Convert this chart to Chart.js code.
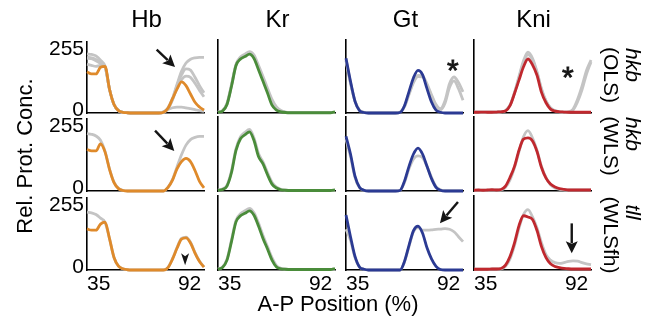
<!DOCTYPE html>
<html><head><meta charset="utf-8">
<script src="https://cdn.jsdelivr.net/npm/chart.js@4.4.1/dist/chart.umd.min.js"></script>
<style>
html,body{margin:0;padding:0;background:#fff}
body{width:652px;height:326px;position:relative;overflow:hidden;font-family:"Liberation Sans",Arial,Helvetica,sans-serif;color:#000}
.lbl{position:absolute;white-space:nowrap;line-height:1}
.panel{position:absolute}
</style></head><body>
<script>
// ---------------- data ----------------
const positions = [35,37.5,40,42.5,45,47.5,50,52.5,55,57.5,60,62.5,65,67.5,70,72.5,75,77.5,80,82.5,85,87.5,90,92.5,95,97.5,100];
const genes = ['Hb','Kr','Gt','Kni'];
const fitMutant = ['hkb','hkb','tll'];
const fitMethod = ['(OLS)','(WLS)','(WLSfh)'];
const xTickValues = [35, 92];
const yTickValues = [0, 255];
const xAxisTitle = 'A-P Position (%)';
const yAxisTitle = 'Rel. Prot. Conc.';

// Hb
const hbOLSModel = [173,164,164,192,196,100,36,10,3,1,0,0,0,0,0,0,0,3,20,60,100,131,115,80,45,25,12];
const hbOLSData1 = [248,246,240,222,196,100,36,10,3,1,0,0,0,0,0,0,0,4,22,62,120,175,210,226,232,234,234];
const hbOLSData2 = [205,200,196,200,196,100,36,10,3,1,0,0,0,0,0,0,0,3,18,55,105,140,155,150,125,95,68];
const hbOLSData3 = [235,232,225,212,196,100,36,10,3,1,0,0,0,0,0,0,0,3,18,58,115,160,185,180,150,115,85];
const hbOLSData4 = [230,228,220,208,196,100,36,10,3,1,0,0,0,0,0,0,0,5,15,22,25,25,22,18,14,10,7];
const hbWLSModel = [172,166,166,195,162,90,35,10,2,0,0,0,0,0,0,0,0,0,15,45,92,122,135,122,85,40,13];
const hbWLSData1 = [238,235,228,210,165,92,37,11,3,0,0,0,0,0,0,0,0,0,15,48,100,150,190,213,222,226,226];
const hbWLSfhModel = [170,165,165,190,198,130,52,16,5,1,0,0,0,0,0,0,0,0,10,45,90,128,133,112,70,35,12];
const hbWLSfhData1 = [240,237,230,215,198,130,52,16,5,1,0,0,0,0,0,0,0,0,11,47,93,131,136,115,72,37,13];
// Kr
const krOLSModel = [3,8,35,110,195,222,232,242,224,178,130,82,32,12,5,2,1,1,1,1,1,1,1,1,1,1,5];
const krOLSData1 = [4,10,40,118,200,230,242,252,238,196,150,102,56,25,10,4,2,2,2,2,2,2,2,2,2,2,3];
const krOLSData2 = [3,9,36,112,196,226,238,247,232,188,142,92,45,18,7,3,2,2,2,2,2,2,2,2,2,2,3];
const krWLSModel = [3,6,20,75,165,212,228,240,205,140,110,66,28,12,5,3,2,2,2,2,2,2,2,2,2,2,5];
const krWLSData1 = [4,8,24,82,172,220,238,250,215,152,118,75,36,16,7,4,2,2,2,2,2,2,2,2,2,2,3];
const krWLSfhModel = [3,10,40,115,195,220,230,240,222,178,128,85,40,12,5,3,2,2,2,2,2,2,2,2,2,2,6];
const krWLSfhData1 = [4,12,44,122,202,228,240,250,232,190,140,95,50,18,7,4,2,2,2,2,2,2,2,2,2,2,3];
// Gt
const gtOLSModel = [225,130,48,10,2,0,0,0,0,0,0,0,2,30,88,145,175,158,100,45,12,3,0,0,0,0,0];
const gtOLSData1 = [220,125,50,12,3,0,0,0,0,0,0,0,3,28,80,130,155,152,120,75,35,18,50,120,148,125,87];
const gtOLSData2 = [215,122,48,11,3,0,0,0,0,0,0,0,3,26,76,125,150,148,115,70,30,13,40,105,132,100,52];
const gtWLSModel = [222,150,60,15,3,0,0,0,0,0,0,0,2,40,100,150,174,150,100,50,15,3,0,0,0,0,0];
const gtWLSData1 = [210,140,55,13,3,0,0,0,0,0,0,0,2,35,90,130,142,135,100,55,18,5,1,1,1,1,1];
const gtWLSfhModel = [223,135,55,12,3,0,0,0,0,0,0,0,0,35,100,160,178,150,90,45,15,2,0,0,0,0,0];
const gtWLSfhData1 = [165,120,50,12,3,0,0,0,0,0,0,0,0,33,95,155,172,162,162,163,165,166,168,165,155,135,115];
// Kni
const kniOLSModel = [3,3,4,3,3,4,5,8,30,80,135,190,222,198,155,85,42,16,8,5,4,3,3,3,3,3,3];
const kniOLSData1 = [3,3,3,3,3,4,5,10,32,85,150,215,250,225,170,100,50,22,10,5,4,5,15,55,110,175,218];
const kniOLSData2 = [3,3,3,3,3,4,5,10,31,82,145,208,240,218,165,95,48,20,9,5,4,4,12,45,95,160,210];
const kniWLSModel = [3,4,3,4,5,4,6,20,55,100,165,210,215,203,160,95,52,28,16,10,7,4,4,4,4,4,4];
const kniWLSData1 = [3,3,3,3,4,4,5,15,45,95,160,220,245,215,165,100,55,25,12,7,5,4,4,4,4,4,4];
const kniWLSfhModel = [3,3,3,3,4,4,6,20,55,110,180,220,215,205,160,95,50,25,14,10,7,5,4,4,4,4,4];
const kniWLSfhData1 = [3,3,3,3,4,4,5,15,45,100,170,225,245,215,170,110,62,40,30,27,30,35,37,36,30,25,22];

// annotations (data coordinates: x in %, y in rel. conc.)
const hbOLSArrow = [73.7, 266, 83.9, 193];
const hbWLSArrow = [72.8, 250, 83.5, 166];
const hbWLSfhHead = [89.5, 69, 20];
const gtOLSStar = [94.4, 205];
const kniOLSStar = [87.2, 175];
const gtWLSfhArrow = [97.2, 276, 87.2, 190];
const kniWLSfhArrow = [89.3, 189, 89.3, 68];

// ---------------- style / layout ----------------
const FONT = '"Liberation Sans", Arial, Helvetica, sans-serif';
const geneColors = ['#df8a2b', '#4a8c3a', '#2b3a93', '#c0282e'];
const grayColor = '#c4c4c4';
const colLeft = [87, 218, 346, 474];
const rowTop = [40, 117, 196];
const rowBottom = [113, 191, 270];
const plotW = 117;

const panels = [
  [
    {model: hbOLSModel, data: [hbOLSData1, hbOLSData2, hbOLSData3, hbOLSData4], ann: [{kind:'arrow', v: hbOLSArrow}]},
    {model: krOLSModel, data: [krOLSData1, krOLSData2], ann: []},
    {model: gtOLSModel, data: [gtOLSData1, gtOLSData2], ann: [{kind:'star', v: gtOLSStar}]},
    {model: kniOLSModel, data: [kniOLSData1, kniOLSData2], ann: [{kind:'star', v: kniOLSStar}]}
  ],
  [
    {model: hbWLSModel, data: [hbWLSData1], ann: [{kind:'arrow', v: hbWLSArrow}]},
    {model: krWLSModel, data: [krWLSData1], ann: []},
    {model: gtWLSModel, data: [gtWLSData1], ann: []},
    {model: kniWLSModel, data: [kniWLSData1], ann: []}
  ],
  [
    {model: hbWLSfhModel, data: [hbWLSfhData1], ann: [{kind:'head', v: hbWLSfhHead}]},
    {model: krWLSfhModel, data: [krWLSfhData1], ann: []},
    {model: gtWLSfhModel, data: [gtWLSfhData1], ann: [{kind:'arrow', v: gtWLSfhArrow}]},
    {model: kniWLSfhModel, data: [kniWLSfhData1], ann: [{kind:'arrow', v: kniWLSfhArrow}]}
  ]
];

const annotatePlugin = {
  id: 'annotate',
  afterDatasetsDraw(chart, args, opts) {
    const items = (opts && opts.items) || [];
    const ctx = chart.ctx, xs = chart.scales.x, ys = chart.scales.y;
    ctx.save();
    ctx.fillStyle = '#151515';
    ctx.strokeStyle = '#151515';
    for (const it of items) {
      if (it.kind === 'arrow') {
        const [x0, y0, x1, y1] = it.v;
        const px0 = xs.getPixelForValue(x0), py0 = ys.getPixelForValue(y0);
        const px1 = xs.getPixelForValue(x1), py1 = ys.getPixelForValue(y1);
        const dx = px1 - px0, dy = py1 - py0, len = Math.hypot(dx, dy);
        const ux = dx / len, uy = dy / len;
        const hl = 12, hw = 6;
        const bx = px1 - ux * hl, by = py1 - uy * hl;
        ctx.lineWidth = 2.4;
        ctx.beginPath(); ctx.moveTo(px0, py0); ctx.lineTo(bx + ux * 2, by + uy * 2); ctx.stroke();
        ctx.beginPath();
        ctx.moveTo(px1, py1);
        ctx.lineTo(bx - uy * hw, by + ux * hw);
        ctx.lineTo(bx + ux * 2.5, by + uy * 2.5);
        ctx.lineTo(bx + uy * hw, by - ux * hw);
        ctx.closePath(); ctx.fill();
      } else if (it.kind === 'head') {
        const [xv, yTop, yTip] = it.v;
        const px = xs.getPixelForValue(xv), pt = ys.getPixelForValue(yTop), pb = ys.getPixelForValue(yTip);
        ctx.beginPath();
        ctx.moveTo(px - 4, pt);
        ctx.lineTo(px, pt + 3);
        ctx.lineTo(px + 4, pt);
        ctx.lineTo(px, pb);
        ctx.closePath(); ctx.fill();
      } else if (it.kind === 'star') {
        const [xv, yv] = it.v;
        const px = xs.getPixelForValue(xv), py = ys.getPixelForValue(yv);
        const size = 30;
        ctx.font = size + 'px ' + FONT;
        ctx.textAlign = 'center';
        ctx.textBaseline = 'alphabetic';
        ctx.lineWidth = 0.8;
        ctx.fillText('*', px, py + 0.56 * size);
        ctx.strokeText('*', px, py + 0.56 * size);
      }
    }
    ctx.restore();
  }
};

function addLabel(text, cx, cy, size, rot, italic) {
  const d = document.createElement('div');
  d.className = 'lbl';
  d.textContent = text;
  d.style.left = cx + 'px';
  d.style.top = cy + 'px';
  d.style.fontSize = size + 'px';
  if (italic) d.style.fontStyle = 'italic';
  d.style.transform = 'translate(-50%,-50%)' + (rot ? ' rotate(' + rot + 'deg)' : '');
  document.body.appendChild(d);
}

function makePanel(r, c) {
  const p = panels[r][c];
  const padL = 50, padT = 14, padR = 12, padB = 30;
  const H = rowBottom[r] - rowTop[r];
  const W = plotW + padL + padR, HH = H + padT + padB;
  const wrap = document.createElement('div');
  wrap.className = 'panel';
  wrap.style.left = (colLeft[c] - padL) + 'px';
  wrap.style.top = (rowTop[r] - padT) + 'px';
  wrap.style.width = W + 'px';
  wrap.style.height = HH + 'px';
  const cv = document.createElement('canvas');
  cv.width = W; cv.height = HH;
  cv.style.width = W + 'px'; cv.style.height = HH + 'px';
  wrap.appendChild(cv);
  document.body.appendChild(wrap);

  const toPts = arr => positions.map((x, i) => ({x, y: arr[i]}));
  // model first so that it is drawn on top of the gray data curves
  const datasets = [{
    data: toPts(p.model), borderColor: geneColors[c], borderWidth: 2.8, pointRadius: 0,
    tension: 0.4, cubicInterpolationMode: 'monotone', clip: 6
  }];
  p.data.forEach(arr => datasets.push({
    data: toPts(arr), borderColor: grayColor, borderWidth: 2.8, pointRadius: 0,
    tension: 0.4, cubicInterpolationMode: 'monotone', clip: 6
  }));

  new Chart(cv, {
    type: 'line',
    data: {datasets},
    options: {
      responsive: false, animation: false, devicePixelRatio: 1,
      layout: {padding: {top: padT, right: padR, left: 0, bottom: 0}},
      plugins: {legend: {display: false}, tooltip: {enabled: false}, title: {display: false},
                annotate: {items: p.ann}},
      scales: {
        x: {
          type: 'linear', min: 35, max: 100,
          afterBuildTicks: s => { s.ticks = xTickValues.map(v => ({value: v})).concat([{value: 100}]); },
          afterFit: s => { s.height = padB; },
          grid: {display: false, drawTicks: false},
          border: {display: true, color: '#000', width: 1.6},
          ticks: {
            display: r === 2, autoSkip: false, maxRotation: 0, minRotation: 0, align: 'inner',
            padding: 2, color: '#000', font: {family: FONT, size: 21},
            callback: v => (xTickValues.includes(v) ? String(v) : '')
          }
        },
        y: {
          type: 'linear', min: 0, max: 300,
          afterBuildTicks: s => { s.ticks = yTickValues.map(v => ({value: v})); },
          afterFit: s => { s.width = padL; },
          grid: {display: false, drawTicks: false},
          border: {display: true, color: '#000', width: 1.6},
          ticks: {
            display: c === 0, padding: 3, labelOffset: -3, color: '#000',
            font: {family: FONT, size: 21}, callback: v => String(v)
          }
        }
      }
    },
    plugins: [annotatePlugin]
  });
}

for (let r = 0; r < 3; r++) for (let c = 0; c < 4; c++) makePanel(r, c);

// text labels
genes.forEach((g, c) => addLabel(g, colLeft[c] + plotW / 2 + 1, 19, 24, 0, false));
addLabel(xAxisTitle, 338, 304, 22, 0, false);
addLabel(yAxisTitle, 25, 156, 22, -90, false);
const mutantY = [65, 134, 212];
const methodY = [75, 146, 235];
fitMutant.forEach((t, r) => addLabel(t, 633, mutantY[r], 21, 90, true));
fitMethod.forEach((t, r) => addLabel(t, 611, methodY[r], 21, 90, false));
</script>
</body></html>
